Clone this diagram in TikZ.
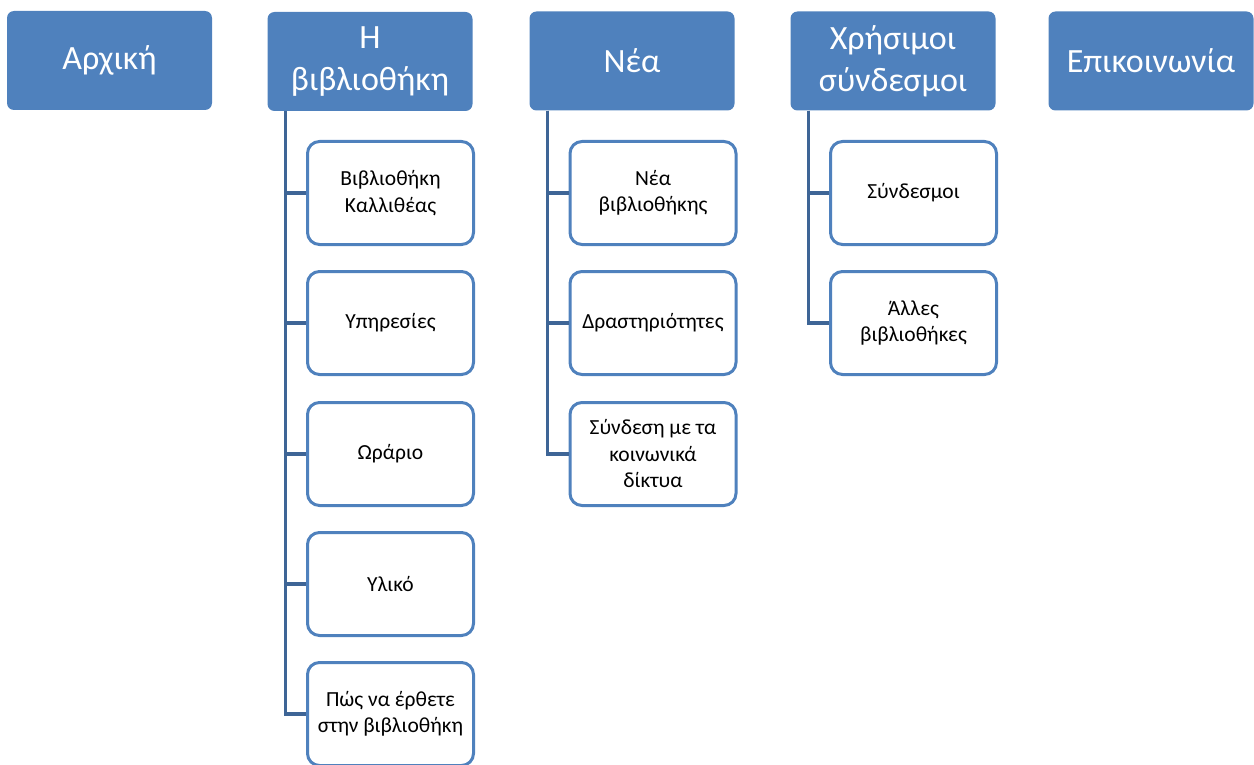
\documentclass[tikz,border=0pt]{standalone}
\usepackage{fontspec}
\setmainfont{Carlito}
\definecolor{topblue}{HTML}{4F81BD}
\definecolor{linkblue}{HTML}{3E6596}
\begin{document}
\begin{tikzpicture}[x=1pt,y=-1pt]
			\tikzstyle{every node}+=[inner sep=0pt, align=center]
			\tikzstyle{menubox}=[fill=topblue, rounded corners=7pt, minimum width=205pt, minimum height=99pt, text=white, font=\fontsize{34}{42}\selectfont]
			\tikzstyle{pagebox}=[draw=topblue, line width=3pt, fill=white, rounded corners=12pt, minimum width=166pt, minimum height=103pt, font=\fontsize{21.5}{26.5}\selectfont]
			\tikzstyle{branch}=[draw=linkblue, line width=3.5pt]
			\useasboundingbox (0,0) rectangle (1254,765);
			% top menu
			\node [menubox] (home) at (109.5,60.5) {Αρχική};
			\node [menubox] (library) at (370,61.5) {Η\\βιβλιοθήκη};
			\node [menubox] (news) at (632,61) {Νέα};
			\node [menubox] (links) at (893,61) {Χρήσιμοι\\σύνδεσμοι};
			\node [menubox] (contact) at (1151,61) {Επικοινωνία};
			% pages under Η βιβλιοθήκη
			\node [pagebox] (kallithea) at (390.5,193) {Βιβλιοθήκη\\Καλλιθέας};
			\node [pagebox] (services) at (390.5,323) {Υπηρεσίες};
			\node [pagebox] (hours) at (390.5,454) {Ωράριο};
			\node [pagebox] (material) at (390.5,584) {Υλικό};
			\node [pagebox] (directions) at (390.5,714) {Πώς να έρθετε\\στην βιβλιοθήκη};
			% pages under Νέα
			\node [pagebox] (libnews) at (653,193) {Νέα\\βιβλιοθήκης};
			\node [pagebox] (activities) at (653,323) {Δραστηριότητες};
			\node [pagebox] (social) at (653,454) {Σύνδεση με τα\\κοινωνικά\\δίκτυα};
			% pages under Χρήσιμοι σύνδεσμοι
			\node [pagebox] (linklist) at (913.5,193) {Σύνδεσμοι};
			\node [pagebox] (otherlibs) at (913.5,323) {Άλλες\\βιβλιοθήκες};
			% branches
			\draw [branch] ([xshift=18pt]library.south west) |- (kallithea.west);
			\draw [branch] ([xshift=18pt]library.south west) |- (services.west);
			\draw [branch] ([xshift=18pt]library.south west) |- (hours.west);
			\draw [branch] ([xshift=18pt]library.south west) |- (material.west);
			\draw [branch] ([xshift=18pt]library.south west) |- (directions.west);
			\draw [branch] ([xshift=18pt]news.south west) |- (libnews.west);
			\draw [branch] ([xshift=18pt]news.south west) |- (activities.west);
			\draw [branch] ([xshift=18pt]news.south west) |- (social.west);
			\draw [branch] ([xshift=18pt]links.south west) |- (linklist.west);
			\draw [branch] ([xshift=18pt]links.south west) |- (otherlibs.west);
		\end{tikzpicture}
\end{document}
